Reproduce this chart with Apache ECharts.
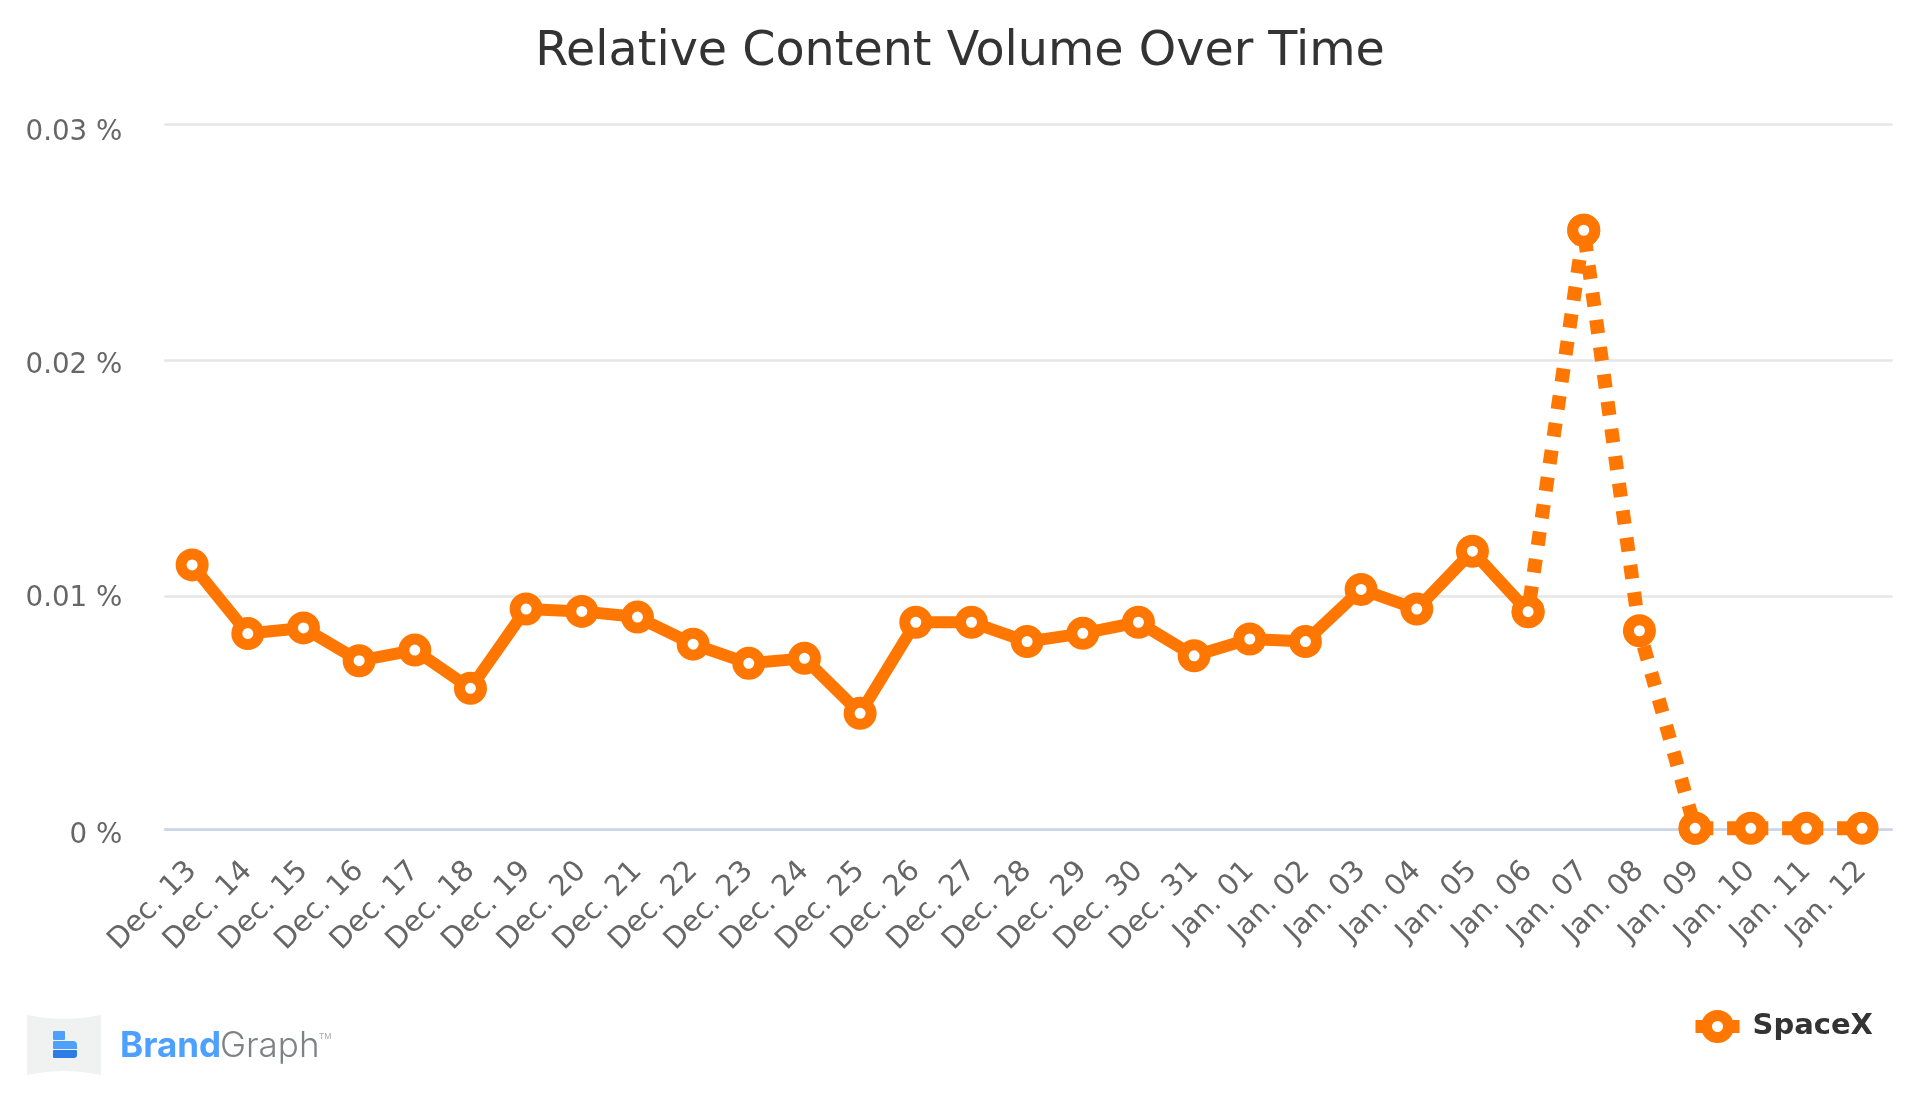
<!DOCTYPE html>
<html>
<head>
<meta charset="utf-8">
<style>html,body{margin:0;padding:0;background:#fff}#c{width:1920px;height:1097px}</style>
<script src="https://cdn.jsdelivr.net/npm/echarts@6/dist/echarts.min.js"></script>
</head>
<body>
<div id="c"></div>
<script>
const categories = ['Dec. 13','Dec. 14','Dec. 15','Dec. 16','Dec. 17','Dec. 18','Dec. 19','Dec. 20','Dec. 21','Dec. 22','Dec. 23','Dec. 24','Dec. 25','Dec. 26','Dec. 27','Dec. 28','Dec. 29','Dec. 30','Dec. 31','Jan. 01','Jan. 02','Jan. 03','Jan. 04','Jan. 05','Jan. 06','Jan. 07','Jan. 08','Jan. 09','Jan. 10','Jan. 11','Jan. 12'];
const spacexValues = [0.01133,0.00842,0.00866,0.00727,0.00772,0.00610,0.00946,0.00936,0.00912,0.00797,0.00716,0.00737,0.00504,0.00890,0.00890,0.00808,0.00843,0.00890,0.00748,0.00819,0.00808,0.01029,0.00946,0.01191,0.00935,0.02551,0.00854,0.00017,0.00017,0.00017,0.00017];
const lastSolidIndex = 24;
const peakIndex = 25;
const flatStartIndex = 27;
const axisFloor = 0.00011;
const yTickValues = [axisFloor,0.01,0.02,0.03];
const yTickLabels = ['0 %','0.01 %','0.02 %','0.03 %'];
const xPositions = categories.map((_, i) => i);
const points = spacexValues.map((v, i) => [i, v]);

const ORANGE = '#ff7700';
const font = '"DejaVu Sans", sans-serif';
const lineSeries = (data, z, dashOffset) => ({
  name: 'SpaceX', type: 'line', data, z,
  symbol: 'circle', symbolSize: 22, showSymbol: true,
  itemStyle: {color: '#fff', borderColor: ORANGE, borderWidth: 11, opacity: 1},
  lineStyle: dashOffset != null
    ? {color: ORANGE, width: 14, type: [13.7, 13.8], dashOffset, cap: 'butt'}
    : {color: ORANGE, width: 12, cap: 'butt'},
  emphasis: {disabled: true}, animation: false
});

const logoBadge = [[27,1015],[45,1018],[64,1019],[83,1018],[101,1015],[101,1075],[83,1072],[64,1071],[45,1072],[27,1075]];

const labelStyle = drop => ({fontFamily: font, fontSize: 27.7, color: '#666', padding: [drop * 2, 0, 0, 0]});

const chart = echarts.init(document.getElementById('c'), null, {renderer: 'canvas'});
chart.setOption({
  animation: false,
  backgroundColor: '#fff',
  title: {text: 'Relative Content Volume Over Time', left: 'center', top: 24,
    textStyle: {fontFamily: font, fontSize: 47.6, fontWeight: 'normal', color: '#333'}},
  legend: {data: ['SpaceX'], left: 1684, top: 1005, itemWidth: 44, itemHeight: 27.5, itemGap: 0,
    itemStyle: {color: '#fff', borderColor: ORANGE, borderWidth: 11},
    lineStyle: {color: ORANGE, width: 13, type: 'solid'},
    textStyle: {fontFamily: font, fontSize: 29, fontWeight: 'bold', color: '#333', padding: [0, 0, 0, 8]}},
  grid: {left: 164.3, top: 124.3, width: 1728.4, height: 705.4, containLabel: false},
  xAxis: {
    type: 'value', min: -0.5, max: 30.55,
    splitLine: {show: false}, axisTick: {show: false, customValues: xPositions},
    axisLine: {show: false},
    axisLabel: {customValues: xPositions, rotate: 45, margin: 37, fontFamily: font, fontSize: 29, color: '#666',
      formatter: v => categories[Math.round(v)] || '', showMinLabel: true, showMaxLabel: true, hideOverlap: false}
  },
  yAxis: {
    type: 'value', min: axisFloor, max: 0.03,
    axisLine: {show: false}, axisTick: {show: false, customValues: yTickValues},
    splitLine: {show: true, lineStyle: {color: '#e6e6e6', width: 2.6}},
    axisLabel: {customValues: yTickValues, margin: 42, fontFamily: font, fontSize: 27.7, color: '#666',
      showMinLabel: true, showMaxLabel: true,
      rich: {t0: labelStyle(6), t1: labelStyle(2.5), t2: labelStyle(6), t3: labelStyle(8.5)},
      formatter: v => { const i = yTickValues.indexOf(v); return '{t' + i + '|' + yTickLabels[i] + '}'; }}
  },
  series: [
    lineSeries(points.slice(0, lastSolidIndex + 1), 4),
    lineSeries(points.slice(lastSolidIndex, peakIndex + 1), 3, 15.5),
    lineSeries(points.slice(peakIndex, flatStartIndex + 1), 3, 19.5),
    lineSeries(points.slice(flatStartIndex), 3, 23)
  ],
  graphic: [
    {type: 'line', silent: true, z: 1, shape: {x1: 164.3, y1: 829.7, x2: 1892.7, y2: 829.7}, style: {stroke: '#ccd6eb', lineWidth: 2.8}},
    {type: 'polygon', silent: true, shape: {points: logoBadge}, style: {fill: '#f0f2f2'}},
    {type: 'rect', silent: true, shape: {x: 53, y: 1031, width: 12, height: 9, r: 1}, style: {fill: '#4fa0fa'}},
    {type: 'rect', silent: true, shape: {x: 53, y: 1041, width: 24, height: 8, r: [1, 4, 0, 1]}, style: {fill: '#4fa0fa'}},
    {type: 'rect', silent: true, shape: {x: 53, y: 1050, width: 24, height: 8, r: [1, 1, 3, 1]}, style: {fill: '#2f7be6'}},
    {type: 'text', silent: true, style: {x: 120, y: 1029, text: 'Brand', fill: '#4da0ff', font: '700 35px Inter, sans-serif'}},
    {type: 'text', silent: true, style: {x: 220, y: 1029, text: 'Graph', fill: '#7f8285', font: '300 35px Inter, sans-serif'}},
    {type: 'text', silent: true, style: {x: 319, y: 1033, text: 'TM', fill: '#aaaaaa', font: '400 8px Inter, sans-serif'}}
  ]
});
</script>
</body>
</html>
